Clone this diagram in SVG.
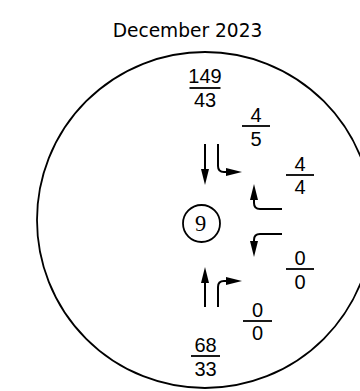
<svg xmlns="http://www.w3.org/2000/svg" width="360" height="391" viewBox="0 0 360 391">
<style>
.t{font-family:"DejaVu Sans",sans-serif;font-size:18.6px;fill:#000}
.n{font-family:"Liberation Sans",Arial,sans-serif;font-size:20px;fill:#000;text-anchor:middle}
.bar{stroke:#000;stroke-width:1.8;fill:none}
.a{stroke:#000;stroke-width:2;fill:none;marker-end:url(#ah)}
</style>
<defs>
<marker id="ah" viewBox="0 0 16 8" refX="0" refY="4" markerWidth="16" markerHeight="8" markerUnits="userSpaceOnUse" orient="auto">
<path d="M0,0 L16,4 L0,8 z" fill="#000"/>
</marker>
</defs>
<rect width="360" height="391" fill="#fff"/>
<text class="t" x="187.5" y="36.5" text-anchor="middle">December 2023</text>
<circle cx="205" cy="220" r="168" fill="none" stroke="#000" stroke-width="1.8"/>
<g id="node9">
<circle cx="201.5" cy="223.5" r="18.5" fill="none" stroke="#000" stroke-width="1.8"/>
<text x="200.5" y="231" font-family="Liberation Serif,serif" font-size="22.5" text-anchor="middle">9</text>
</g>
<g id="f-north">
<text class="n" x="205" y="83">149</text><line class="bar" x1="189.5" y1="88" x2="220.5" y2="88"/><text class="n" x="205" y="107">43</text>
</g>
<g id="f-ne1">
<text class="n" x="256" y="122">4</text><line class="bar" x1="242" y1="126" x2="270" y2="126"/><text class="n" x="256" y="145.5">5</text>
</g>
<g id="f-ne2">
<text class="n" x="300" y="171">4</text><line class="bar" x1="286" y1="175" x2="314" y2="175"/><text class="n" x="300" y="193.5">4</text>
</g>
<g id="f-se1">
<text class="n" x="300" y="265">0</text><line class="bar" x1="286" y1="269" x2="314" y2="269"/><text class="n" x="300" y="288.5">0</text>
</g>
<g id="f-se2">
<text class="n" x="257.5" y="317">0</text><line class="bar" x1="243" y1="321" x2="272" y2="321"/><text class="n" x="257.5" y="339.5">0</text>
</g>
<g id="f-south">
<text class="n" x="205.5" y="351.5">68</text><line class="bar" x1="191" y1="356" x2="220" y2="356"/><text class="n" x="205.5" y="375.5">33</text>
</g>
<g id="connectors">
<path class="a" d="M205,144 V169"/>
<path class="a" d="M218,144 V166 Q218,172 224,172 H226"/>
<path class="a" d="M282,209 H260 Q254,209 254,203 V200"/>
<path class="a" d="M282,234 H260 Q254,234 254,240 V241"/>
<path class="a" d="M205,307 V283"/>
<path class="a" d="M218,307 V287 Q218,281 224,281 H226"/>
</g>
</svg>
